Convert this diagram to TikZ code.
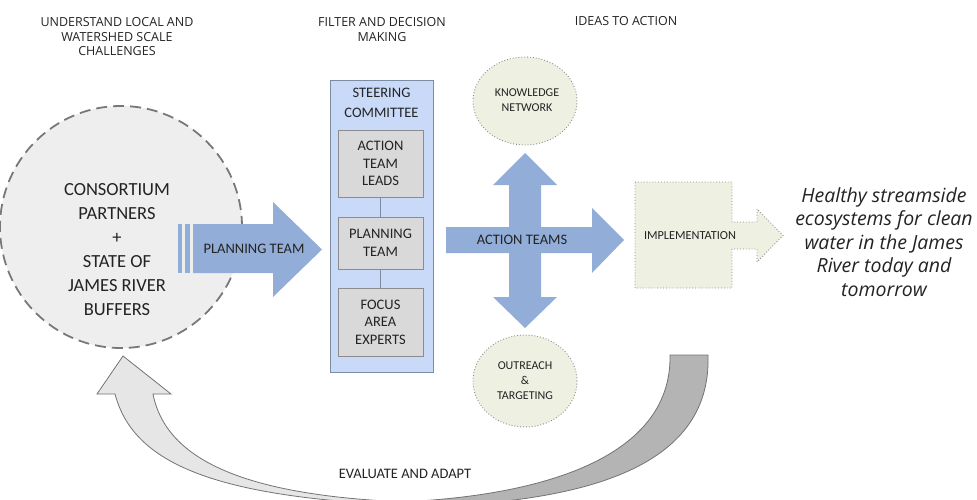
\documentclass[tikz,border=0pt]{standalone}
\usepackage{fontspec}
\setmainfont{Carlito}
\newfontfamily\hdrfont{Open Sans}
\usetikzlibrary{shapes.geometric}
\definecolor{txt}{RGB}{35,35,35}
\definecolor{arrblue}{RGB}{145,173,216}
\definecolor{steerfill}{RGB}{201,218,248}
\definecolor{steerline}{RGB}{125,140,165}
\definecolor{boxfill}{RGB}{217,217,217}
\definecolor{boxline}{RGB}{140,140,140}
\definecolor{greenfill}{RGB}{238,240,226}
\definecolor{circfill}{RGB}{238,238,238}
\definecolor{circline}{RGB}{120,120,120}
\definecolor{lightarr}{RGB}{230,230,230}
\definecolor{darkarr}{RGB}{180,180,180}
\definecolor{arredge}{RGB}{115,115,115}
\begin{document}
\begin{tikzpicture}[x=1pt,y=-1pt,
  hdr/.style={font=\hdrfont\fontsize{12.5}{14.5}\selectfont, align=center, text=txt, inner sep=0pt},
  lbl/.style={font=\fontsize{14.5}{17.5}\selectfont, align=center, text=txt, inner sep=0pt},
  small/.style={font=\fontsize{12}{15}\selectfont, align=center, text=txt, inner sep=0pt},
  graybox/.style={rectangle, draw=boxline, fill=boxfill, line width=0.8pt, minimum width=85pt, inner sep=0pt, align=center, text=txt, font=\fontsize{14.5}{17.5}\selectfont},
  greenell/.style={ellipse, draw=boxline, fill=greenfill, dotted, line width=0.9pt, minimum width=104pt, inner sep=0pt},
  blueshape/.style={fill=arrblue},
  conn/.style={draw=steerline, line width=1pt}
]
\clip (0,0) rectangle (977,500);
\useasboundingbox (0,0) rectangle (977,500);

% headers
\node[hdr] (h1) at (117,37) {UNDERSTAND LOCAL AND\\WATERSHED SCALE\\CHALLENGES};
\node[hdr] (h2) at (382,29.5) {FILTER AND DECISION\\MAKING};
\node[hdr] (h3) at (626,21) {IDEAS TO ACTION};

% bottom curved arrows
\filldraw[fill=lightarr, draw=arredge, line width=0.8pt]
  (123,356) -- (171,394) -- (153,394) .. controls (168,470) and (270,505) .. (480,503)
  -- (480,507) .. controls (230,505) and (135,470) .. (115,394) -- (97,394) -- cycle;
\filldraw[fill=darkarr, draw=arredge, line width=0.8pt]
  (670,355) -- (708,355) .. controls (712,470) and (580,505) .. (400,507)
  -- (400,502) .. controls (560,495) and (672,450) .. (670,355) -- cycle;
\node[lbl] (eval) at (405,474) {EVALUATE AND ADAPT};

% consortium circle
\node[circle, minimum size=242pt, fill=circfill, draw=circline, line width=1.8pt, dash pattern=on 11pt off 6pt] (cons) at (121,227) {};
\node[font=\fontsize{18.5}{24}\selectfont, align=center, text=txt, inner sep=0pt] (constxt) at (117,250) {CONSORTIUM\\PARTNERS\\+\\STATE OF\\JAMES RIVER\\BUFFERS};

% planning team arrow
\fill[blueshape] (178,224) rectangle (182,273);
\fill[blueshape] (185,224) rectangle (190,273);
\fill[blueshape] (193,224) -- (273,224) -- (273,202) -- (322,249.5) -- (273,297) -- (273,273) -- (193,273) -- cycle;
\node[lbl] (pt) at (254,249) {PLANNING TEAM};

% steering committee
\node[rectangle, draw=steerline, fill=steerfill, line width=0.9pt, minimum width=103pt, minimum height=292pt, inner sep=0pt] (steer) at (381.5,226) {};
\node[lbl, font=\fontsize{14.5}{20}\selectfont] (steertxt) at (381.5,103) {STEERING\\COMMITTEE};
\node[graybox, minimum height=67pt] (b1) at (380.5,163.5) {ACTION\\TEAM\\LEADS};
\node[graybox, minimum height=52pt] (b2) at (380.5,243) {PLANNING\\TEAM};
\node[graybox, minimum height=68pt] (b3) at (380.5,322) {FOCUS\\AREA\\EXPERTS};
\draw[conn] (b1) -- (b2);
\draw[conn] (b2) -- (b3);

% knowledge / outreach
\node[greenell, minimum height=88pt] (kn) at (525,101) {};
\node[small] (kntxt) at (527,100.5) {KNOWLEDGE\\NETWORK};
\node[greenell, minimum height=92pt] (out) at (525,381) {};
\node[small] (outtxt) at (525,381) {OUTREACH\\\&\\TARGETING};

% action teams cross arrow
\fill[blueshape] (446,227) -- (509,227) -- (509,185) -- (493,185) -- (525,153) -- (557,185) -- (541,185)
  -- (541,227) -- (592,227) -- (592,208) -- (624,240) -- (592,273) -- (592,253) -- (541,253)
  -- (541,297) -- (557,297) -- (525,328) -- (493,297) -- (509,297) -- (509,253) -- (446,253) -- cycle;
\node[lbl] (at) at (522,240) {ACTION TEAMS};

% implementation
\filldraw[fill=greenfill, draw=boxline, dotted, line width=0.9pt]
  (635,182) -- (732,182) -- (732,222) -- (757,222) -- (757,209) -- (783,235.5) -- (757,262)
  -- (757,249) -- (732,249) -- (732,288) -- (635,288) -- cycle;
\node[small, font=\fontsize{12.3}{15}\selectfont] (impl) at (690,236) {IMPLEMENTATION};

% goal text
\node[font=\hdrfont\itshape\fontsize{19.5}{23.5}\selectfont, align=center, text=txt, inner sep=0pt] (goal) at (884,242)
  {Healthy streamside\\ecosystems for clean\\water in the James\\River today and\\tomorrow};
\end{tikzpicture}
\end{document}
